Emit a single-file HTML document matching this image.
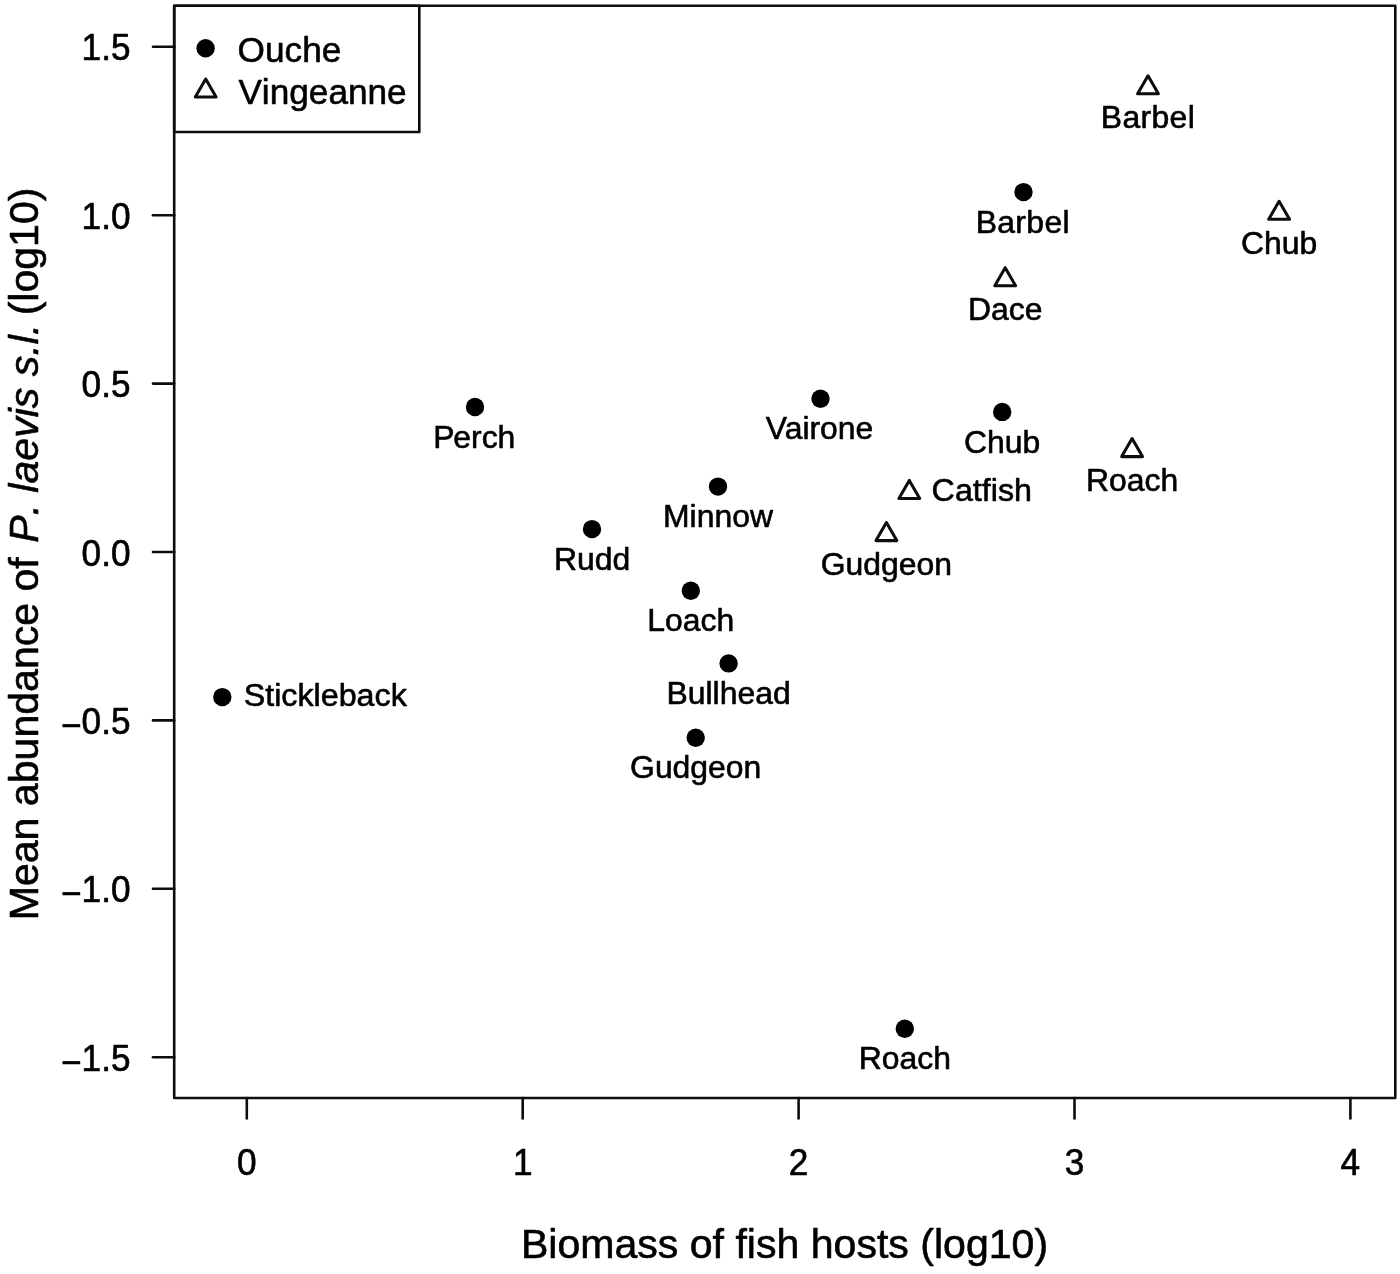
<!DOCTYPE html>
<html lang="en"><head><meta charset="utf-8"><title>Mean abundance of P. laevis s.l. vs biomass of fish hosts</title>
<style>
html,body{margin:0;padding:0;background:#fff;}
body{width:1400px;height:1274px;overflow:hidden;}
svg{display:block;filter:blur(0.45px);}
text{font-family:"Liberation Sans",sans-serif;fill:#000;stroke:#000;stroke-width:0.6px;stroke-linejoin:round;font-kerning:none;}
.ax{font-size:35.2px;}
.lab{font-size:41.07px;}
.pt{font-size:31.9px;}
.ln{stroke:#0d0d0d;stroke-width:2.6;fill:none;}
</style></head><body>
<svg width="1400" height="1274" viewBox="0 0 1400 1274">
<rect x="0" y="0" width="1400" height="1274" fill="#fff"/>

<rect class="ln" x="174.2" y="5.7" width="1221.1" height="1092.3" stroke-linejoin="round"/>
<line class="ln" x1="246.8" y1="1098.0" x2="246.8" y2="1118.5" stroke-linecap="round"/>
<text class="ax" transform="translate(246.8,1174.7) scale(1,1.05)" text-anchor="middle">0</text>
<line class="ln" x1="522.7" y1="1098.0" x2="522.7" y2="1118.5" stroke-linecap="round"/>
<text class="ax" transform="translate(522.7,1174.7) scale(1,1.05)" text-anchor="middle">1</text>
<line class="ln" x1="798.6" y1="1098.0" x2="798.6" y2="1118.5" stroke-linecap="round"/>
<text class="ax" transform="translate(798.6,1174.7) scale(1,1.05)" text-anchor="middle">2</text>
<line class="ln" x1="1074.5" y1="1098.0" x2="1074.5" y2="1118.5" stroke-linecap="round"/>
<text class="ax" transform="translate(1074.5,1174.7) scale(1,1.05)" text-anchor="middle">3</text>
<line class="ln" x1="1350.4" y1="1098.0" x2="1350.4" y2="1118.5" stroke-linecap="round"/>
<text class="ax" transform="translate(1350.4,1174.7) scale(1,1.05)" text-anchor="middle">4</text>
<line class="ln" x1="174.2" y1="1057.2" x2="153.0" y2="1057.2" stroke-linecap="round"/>
<text class="ax" transform="translate(130.5,1070.8) scale(1,1.05)" text-anchor="end"><tspan dy="3.6">−</tspan><tspan dy="-3.6">1.5</tspan></text>
<line class="ln" x1="174.2" y1="888.8" x2="153.0" y2="888.8" stroke-linecap="round"/>
<text class="ax" transform="translate(130.5,902.4) scale(1,1.05)" text-anchor="end"><tspan dy="3.6">−</tspan><tspan dy="-3.6">1.0</tspan></text>
<line class="ln" x1="174.2" y1="720.4" x2="153.0" y2="720.4" stroke-linecap="round"/>
<text class="ax" transform="translate(130.5,734.0) scale(1,1.05)" text-anchor="end"><tspan dy="3.6">−</tspan><tspan dy="-3.6">0.5</tspan></text>
<line class="ln" x1="174.2" y1="552.0" x2="153.0" y2="552.0" stroke-linecap="round"/>
<text class="ax" transform="translate(130.5,565.6) scale(1,1.05)" text-anchor="end">0.0</text>
<line class="ln" x1="174.2" y1="383.6" x2="153.0" y2="383.6" stroke-linecap="round"/>
<text class="ax" transform="translate(130.5,397.2) scale(1,1.05)" text-anchor="end">0.5</text>
<line class="ln" x1="174.2" y1="215.2" x2="153.0" y2="215.2" stroke-linecap="round"/>
<text class="ax" transform="translate(130.5,228.8) scale(1,1.05)" text-anchor="end">1.0</text>
<line class="ln" x1="174.2" y1="46.8" x2="153.0" y2="46.8" stroke-linecap="round"/>
<text class="ax" transform="translate(130.5,60.4) scale(1,1.05)" text-anchor="end">1.5</text>
<text class="lab" x="784.5" y="1258.0" text-anchor="middle">Biomass of fish hosts (log10)</text>
<text class="lab" transform="translate(38.4,553.9) rotate(-90)" text-anchor="middle">Mean abundance of <tspan font-style="italic" dx="3">P. laevis s.l.</tspan><tspan dx="-3"> (log10)</tspan></text>
<rect class="ln" x="174.2" y="5.7" width="245.10000000000002" height="126.3" fill="#fff" stroke-linejoin="round"/>
<circle cx="205.6" cy="48.2" r="9.2" fill="#000"/>
<path class="ln" style="stroke-width:3.05" stroke-linejoin="round" d="M205.7,79.0 L216.1,97.0 L195.3,97.0 Z"/>
<text class="ax" x="237.6" y="61.7">Ouche</text>
<text class="ax" x="238.4" y="104.0">Vingeanne</text>
<circle cx="222.3" cy="697.1" r="9.2" fill="#000"/>
<text class="pt" style="font-size:32.25px" x="243.7" y="705.9">Stickleback</text>
<circle cx="475.0" cy="407.0" r="9.2" fill="#000"/>
<text class="pt" x="474.3" y="447.6" text-anchor="middle">P<tspan dx="-1.2">erch</tspan></text>
<circle cx="592.0" cy="529.1" r="9.2" fill="#000"/>
<text class="pt" x="592.0" y="569.7" text-anchor="middle">Rudd</text>
<circle cx="718.0" cy="486.6" r="9.2" fill="#000"/>
<text class="pt" x="718.0" y="527.2" text-anchor="middle">Minnow</text>
<circle cx="690.8" cy="590.8" r="9.2" fill="#000"/>
<text class="pt" x="690.8" y="631.4" text-anchor="middle">Loach</text>
<circle cx="728.6" cy="663.4" r="9.2" fill="#000"/>
<text class="pt" x="728.6" y="704.0" text-anchor="middle">Bullhead</text>
<circle cx="695.7" cy="737.7" r="9.2" fill="#000"/>
<text class="pt" x="695.7" y="778.3" text-anchor="middle">Gudgeon</text>
<circle cx="820.5" cy="398.8" r="9.2" fill="#000"/>
<text class="pt" x="819.5" y="439.4" text-anchor="middle">V<tspan dx="-2.3">airone</tspan></text>
<circle cx="1002.2" cy="411.9" r="9.2" fill="#000"/>
<text class="pt" x="1002.2" y="452.5" text-anchor="middle">Chub</text>
<circle cx="1023.5" cy="192.1" r="9.2" fill="#000"/>
<text class="pt" x="1022.8" y="232.7" text-anchor="middle" letter-spacing="0.35">Barbel</text>
<circle cx="904.8" cy="1028.8" r="9.2" fill="#000"/>
<text class="pt" x="904.8" y="1069.4" text-anchor="middle">Roach</text>
<path class="ln" style="stroke-width:3.05" stroke-linejoin="round" d="M1148.0,75.8 L1158.4,93.8 L1137.6,93.8 Z"/>
<text class="pt" x="1148.0" y="128.4" text-anchor="middle" letter-spacing="0.35">Barbel</text>
<path class="ln" style="stroke-width:3.05" stroke-linejoin="round" d="M1279.1,201.3 L1289.5,219.3 L1268.7,219.3 Z"/>
<text class="pt" x="1279.1" y="253.9" text-anchor="middle">Chub</text>
<path class="ln" style="stroke-width:3.05" stroke-linejoin="round" d="M1005.2,267.7 L1015.6,285.7 L994.8,285.7 Z"/>
<text class="pt" x="1005.2" y="320.3" text-anchor="middle">Dace</text>
<path class="ln" style="stroke-width:3.05" stroke-linejoin="round" d="M1132.1,438.6 L1142.5,456.6 L1121.7,456.6 Z"/>
<text class="pt" x="1132.1" y="491.2" text-anchor="middle">Roach</text>
<path class="ln" style="stroke-width:3.05" stroke-linejoin="round" d="M909.3,480.4 L919.7,498.4 L898.9,498.4 Z"/>
<text class="pt" style="font-size:32.25px" x="931.6" y="500.6">Catfish</text>
<path class="ln" style="stroke-width:3.05" stroke-linejoin="round" d="M886.4,522.6 L896.8,540.6 L876.0,540.6 Z"/>
<text class="pt" x="886.4" y="575.2" text-anchor="middle">Gudgeon</text>
</svg></body></html>
